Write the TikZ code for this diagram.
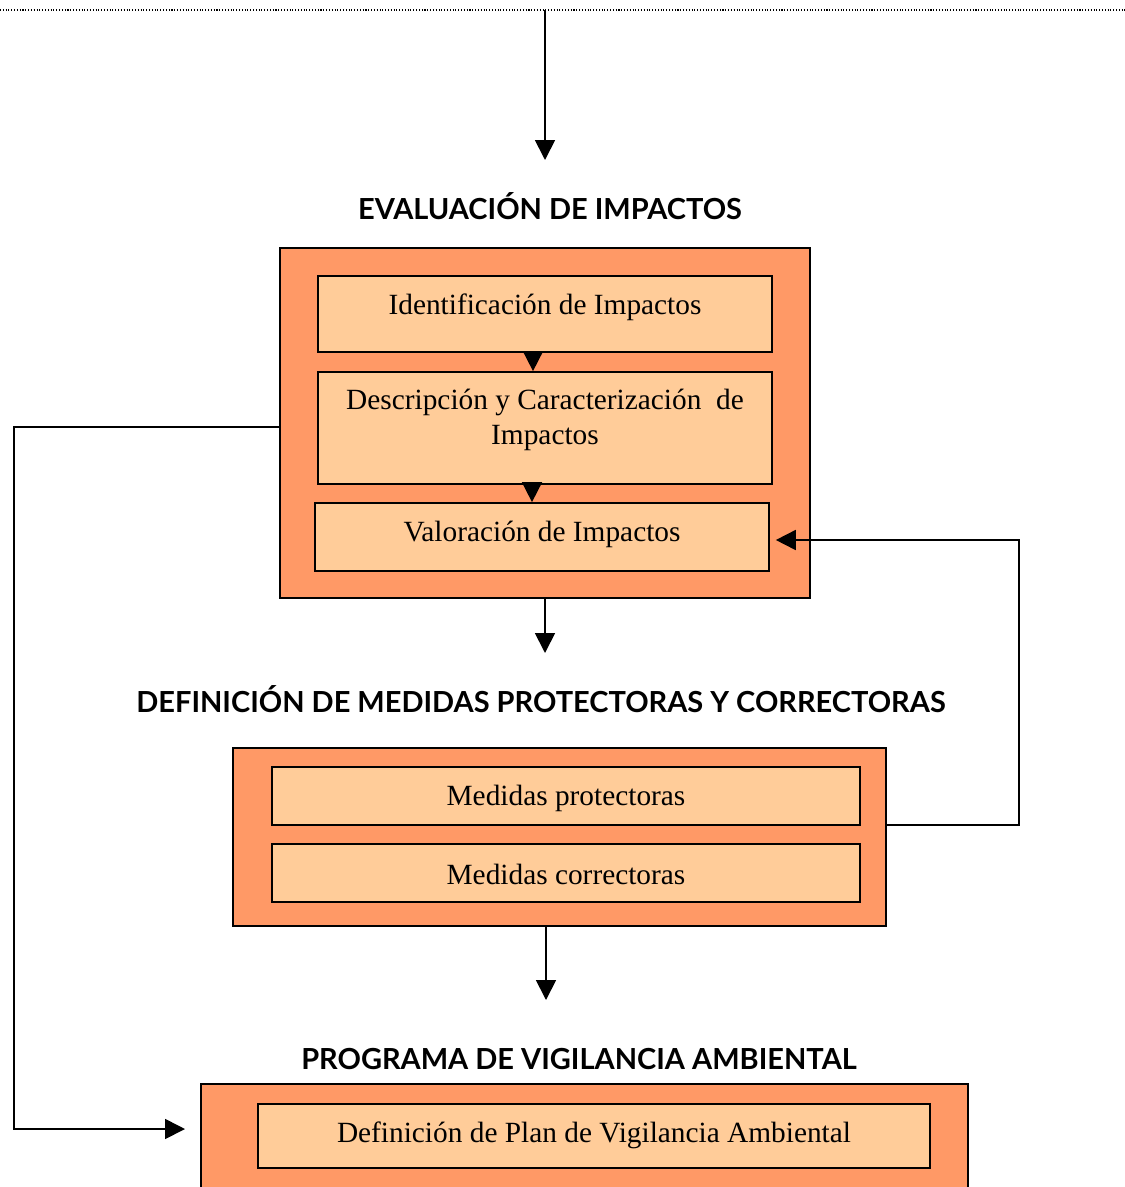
\documentclass[tikz,border=0pt]{standalone}
\usepackage{fontspec}
\setmainfont{Liberation Serif}
\newfontfamily\headfont{Lato}
\usetikzlibrary{arrows.meta}
\definecolor{outerfill}{HTML}{FF9966}
\definecolor{innerfill}{HTML}{FFCC99}
\begin{document}
\begin{tikzpicture}
    [x=0.02cm,y=-0.02cm,
    outer/.style={draw,line width=1pt,fill=outerfill,inner sep=0pt},
    inner/.style={draw,line width=1pt,fill=innerfill,inner sep=0pt,minimum width=9.08cm},
    txt/.style={font=\fontsize{16.7}{20}\selectfont,align=center},
    head/.style={font=\headfont\bfseries\fontsize{16.5}{19}\selectfont},
    arr/.style={line width=1pt,-{Triangle[length=0.4cm,width=0.4cm]}},
    conn/.style={line width=1pt}]
    \useasboundingbox (0,0) rectangle (1125,1187);
    \clip (0,0) rectangle (1125,1187);
    %top rule
    \draw[densely dotted,line width=0.6pt] (0,10)--(1125,10);
    \coordinate (top) at (545,10);
    \coordinate (in1) at (545,160);
    \draw[arr] (top)--(in1);
    %evaluacion
    \node[head] (h1) at (550,206) {EVALUACIÓN DE IMPACTOS};
    \node[outer,minimum width=10.6cm,minimum height=7cm] (box1) at (545,423) {};
    \node[inner,minimum height=1.52cm,label={[txt,yshift=0.13cm]center:Identificación de Impactos}] (ident) at (545,314) {};
    \node[inner,minimum height=2.24cm,label={[txt,yshift=0.16cm]center:Descripción y Caracterización\ \ de\\Impactos}] (desc) at (545,428) {};
    \node[inner,minimum height=1.36cm,label={[txt,yshift=0.06cm]center:Valoración de Impactos}] (val) at (542,537) {};
    \draw[arr] ([xshift=-0.24cm]ident.south)--([xshift=-0.24cm]ident.south |- desc.north);
    \draw[arr] ([xshift=-0.26cm]desc.south)--([xshift=-0.26cm]desc.south |- val.north);
    \coordinate (in2) at (545,653);
    \draw[arr] (box1.south)--(in2);
    %medidas
    \node[head] (h2) at (541,699) {DEFINICIÓN DE MEDIDAS PROTECTORAS Y CORRECTORAS};
    \node[outer,minimum width=13.06cm,minimum height=3.56cm] (box2) at (559.5,837) {};
    \node[inner,minimum width=11.76cm,minimum height=1.16cm,label={[txt,yshift=-0.04cm]center:Medidas protectoras}] (prot) at (566,796) {};
    \node[inner,minimum width=11.76cm,minimum height=1.16cm,label={[txt,yshift=-0.02cm]center:Medidas correctoras}] (corr) at (566,873) {};
    \coordinate (in3) at (546,1000);
    \draw[arr] (box2.south -| in3)--(in3);
    %vigilancia
    \node[head] (h3) at (579,1059) {PROGRAMA DE VIGILANCIA AMBIENTAL};
    \node[outer,minimum width=15.34cm,minimum height=3.12cm] (box3) at (584.5,1162) {};
    \node[inner,minimum width=13.44cm,minimum height=1.28cm,label={[txt,yshift=0.02cm]center:Definición de Plan de Vigilancia Ambiental}] (plan) at (594,1136) {};
    %feedback lines
    \draw[arr] ([yshift=0.24cm]box2.east)--++(132,0)|-([xshift=0.12cm,yshift=-0.06cm]val.east);
    \coordinate (in4) at (185,1129);
    \draw[arr] ([yshift=-0.08cm]box1.west)--++(-265,0)|-(in4);
\end{tikzpicture}
\end{document}
